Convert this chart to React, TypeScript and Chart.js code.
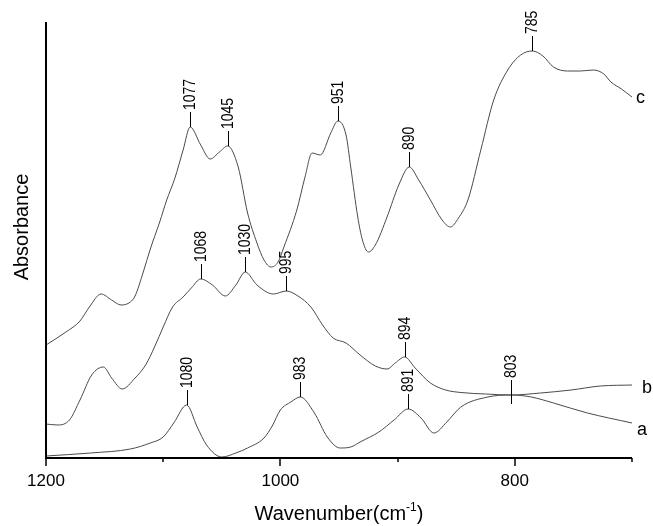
import React, { useEffect, useRef } from 'react';
import { Chart, registerables } from 'chart.js';

Chart.register(...registerables);

// Wavenumbers (cm-1) and absorbance (arbitrary units, curves offset)
const wnA = [1200, 1162, 1128, 1111, 1100, 1091, 1080, 1071, 1063, 1050, 1038, 1028, 1014, 1007, 1000, 991, 983, 971, 960, 949, 940, 932, 916, 903, 891, 880, 869, 858, 846, 823, 803, 786, 767, 738, 700];
const absA = [0.02, 0.05, 0.09, 0.15, 0.21, 0.35, 0.53, 0.31, 0.13, 0.01, 0.05, 0.10, 0.20, 0.32, 0.48, 0.56, 0.61, 0.45, 0.21, 0.10, 0.11, 0.16, 0.26, 0.38, 0.49, 0.40, 0.25, 0.36, 0.51, 0.61, 0.63, 0.61, 0.55, 0.45, 0.35];

const wnB = [1200, 1190, 1180, 1171, 1161, 1151, 1144, 1135, 1124, 1115, 1107, 1100, 1092, 1083, 1076, 1068, 1058, 1047, 1038, 1030, 1020, 1006, 995, 985, 974, 964, 955, 944, 932, 919, 909, 902, 894, 885, 872, 859, 846, 825, 803, 778, 752, 727, 700];
const absB = [0.34, 0.33, 0.38, 0.58, 0.83, 0.91, 0.80, 0.69, 0.80, 0.93, 1.12, 1.31, 1.51, 1.61, 1.70, 1.79, 1.73, 1.62, 1.73, 1.86, 1.73, 1.64, 1.67, 1.62, 1.51, 1.33, 1.20, 1.15, 1.03, 0.92, 0.89, 0.95, 1.01, 0.90, 0.75, 0.68, 0.655, 0.64, 0.63, 0.65, 0.68, 0.72, 0.73];

const wnC = [1200, 1183, 1171, 1163, 1153, 1144, 1136, 1128, 1124, 1117, 1111, 1103, 1097, 1090, 1083, 1077, 1068, 1060, 1052, 1045, 1036, 1028, 1020, 1014, 1008, 1002, 997, 986, 979, 973, 966, 957, 951, 944, 940, 934, 930, 925, 919, 909, 899, 890, 882, 872, 862, 855, 848, 840, 829, 818, 806, 795, 785, 776, 767, 755, 744, 733, 724, 718, 709, 700];
const absC = [1.13, 1.26, 1.37, 1.51, 1.64, 1.58, 1.53, 1.56, 1.62, 1.86, 2.09, 2.36, 2.58, 2.80, 3.08, 3.31, 3.13, 2.99, 3.06, 3.12, 2.91, 2.45, 2.15, 1.98, 1.91, 1.96, 2.11, 2.48, 2.81, 3.05, 3.03, 3.25, 3.37, 3.23, 2.91, 2.41, 2.18, 2.06, 2.13, 2.41, 2.73, 2.91, 2.78, 2.58, 2.38, 2.31, 2.40, 2.58, 3.08, 3.58, 3.88, 4.03, 4.07, 4.02, 3.91, 3.87, 3.87, 3.88, 3.84, 3.76, 3.69, 3.61];

const seriesNames = ['a', 'b', 'c'];
const peaksA = [1080, 983, 891, 803];
const peaksB = [1068, 1030, 995, 894];
const peaksC = [1077, 1045, 951, 890, 785];
const majorTicks = [1200, 1000, 800];
const minorTicks = [1100, 900, 700];

const FONT = '"Liberation Sans", Arial, Helvetica, sans-serif';

function toPoints(xs: number[], ys: number[]) {
  return xs.map((x, i) => ({ x, y: ys[i] }));
}

const decorPlugin = {
  id: 'decor',
  afterDatasetsDraw(chart: any) {
    const ctx = chart.ctx;
    const xs = chart.scales.x;
    const area = chart.chartArea;
    ctx.save();
    // axes
    ctx.strokeStyle = '#000';
    ctx.lineWidth = 2;
    ctx.beginPath();
    ctx.moveTo(area.left, area.top);
    ctx.lineTo(area.left, area.bottom);
    ctx.lineTo(area.right, area.bottom);
    ctx.stroke();
    ctx.lineWidth = 1.5;
    majorTicks.forEach((v) => {
      const px = Math.round(xs.getPixelForValue(v));
      ctx.beginPath();
      ctx.moveTo(px, area.bottom);
      ctx.lineTo(px, area.bottom + 8);
      ctx.stroke();
    });
    minorTicks.forEach((v) => {
      const px = Math.round(xs.getPixelForValue(v));
      ctx.beginPath();
      ctx.moveTo(px, area.bottom);
      ctx.lineTo(px, area.bottom + 4);
      ctx.stroke();
    });
    // tick labels
    ctx.fillStyle = '#000';
    ctx.font = `17px ${FONT}`;
    ctx.textAlign = 'center';
    ctx.textBaseline = 'middle';
    majorTicks.forEach((v) => {
      ctx.fillText(String(v), xs.getPixelForValue(v), area.bottom + 23);
    });
    // x title with superscript
    const main = 'Wavenumber(cm';
    const sup = '-1';
    const close = ')';
    ctx.font = `20px ${FONT}`;
    const wMain = ctx.measureText(main).width;
    const wClose = ctx.measureText(close).width;
    ctx.font = `12px ${FONT}`;
    const wSup = ctx.measureText(sup).width;
    const total = wMain + wSup + wClose;
    let tx = (area.left + area.right) / 2 - total / 2;
    const ty = area.bottom + 62;
    ctx.textAlign = 'left';
    ctx.textBaseline = 'alphabetic';
    ctx.font = `20px ${FONT}`;
    ctx.fillText(main, tx, ty);
    tx += wMain;
    ctx.font = `12px ${FONT}`;
    ctx.fillText(sup, tx, ty - 9);
    tx += wSup;
    ctx.font = `20px ${FONT}`;
    ctx.fillText(close, tx, ty);
    // y title
    ctx.save();
    ctx.translate(22, 227);
    ctx.rotate(-Math.PI / 2);
    ctx.textAlign = 'center';
    ctx.textBaseline = 'middle';
    ctx.font = `20px ${FONT}`;
    ctx.fillText('Absorbance', 0, 0);
    ctx.restore();

    // peak markers
    const peakSets = [peaksA, peaksB, peaksC];
    ctx.strokeStyle = '#000';
    ctx.lineWidth = 1;
    ctx.font = `14px ${FONT}`;
    peakSets.forEach((peaks, di) => {
      const ds = chart.data.datasets[di];
      const meta = chart.getDatasetMeta(di);
      peaks.forEach((p) => {
        const idx = ds.data.findIndex((d: any) => d.x === p);
        if (idx < 0) return;
        const el = meta.data[idx];
        const px = Math.round(el.x) + 0.5;
        const below = p === 803 ? 9 : 0;
        const top = el.y - 15;
        ctx.beginPath();
        ctx.moveTo(px, el.y + below);
        ctx.lineTo(px, top);
        ctx.stroke();
        ctx.save();
        ctx.translate(px, top - 2);
        ctx.rotate(-Math.PI / 2);
        ctx.scale(1, 1.15);
        ctx.textAlign = 'left';
        ctx.textBaseline = 'middle';
        ctx.fillText(String(p), 0, 0);
        ctx.restore();
      });
    });

    // series labels
    const offsets = [
      [5, 12],
      [10, 8],
      [4, 6],
    ];
    ctx.font = `18px ${FONT}`;
    ctx.textAlign = 'left';
    ctx.textBaseline = 'alphabetic';
    seriesNames.forEach((name, di) => {
      const meta = chart.getDatasetMeta(di);
      const last = meta.data[meta.data.length - 1];
      ctx.fillText(name, last.x + offsets[di][0], last.y + offsets[di][1]);
    });
    ctx.restore();
  },
};

export default function App() {
  const ref = useRef<HTMLCanvasElement | null>(null);
  useEffect(() => {
    if (!ref.current) return;
    const mk = (label: string, xs: number[], ys: number[]) => ({
      label,
      data: toPoints(xs, ys),
      borderColor: '#4a4a4a',
      borderWidth: 1,
      pointRadius: 0,
      fill: false,
      cubicInterpolationMode: 'monotone' as const,
      clip: false as const,
    });
    const chart = new Chart(ref.current, {
      type: 'line',
      data: {
        datasets: [mk('a', wnA, absA), mk('b', wnB, absB), mk('c', wnC, absC)],
      },
      options: {
        animation: false,
        responsive: false,
        devicePixelRatio: 1,
        layout: { padding: { left: 46, top: 22, right: 21, bottom: 68 } },
        plugins: { legend: { display: false }, tooltip: { enabled: false } },
        scales: {
          x: { type: 'linear', min: 700, max: 1200, reverse: true, display: false },
          y: { type: 'linear', min: 0, max: 4.36, display: false },
        },
      },
      plugins: [decorPlugin],
    });
    return () => chart.destroy();
  }, []);
  return (
    <div style={{ position: 'fixed', left: 0, top: 0, width: 653, height: 526, background: '#fff' }}>
      <canvas ref={ref} width={653} height={526} style={{ display: 'block' }} />
    </div>
  );
}
